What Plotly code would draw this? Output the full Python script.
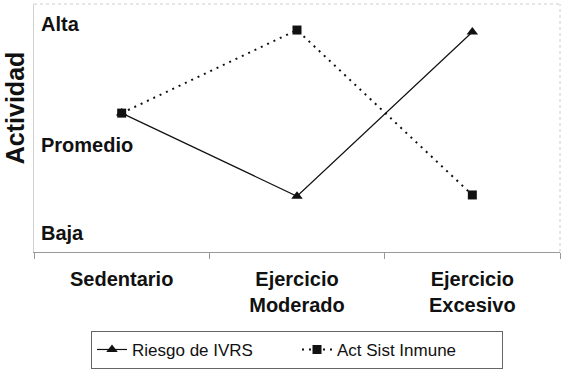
import plotly.graph_objects as go

categories = ["Sedentario", "Ejercicio<br>Moderado", "Ejercicio<br>Excesivo"]
riesgo_ivrs = [5.6, 2.25, 8.87]
act_sist_inmune = [5.6, 8.95, 2.3]
ytick_vals = [9.19, 4.31, 0.75]
ytick_text = ["Alta", "Promedio", "Baja"]

FONT = "Liberation Sans, Arial, sans-serif"

fig = go.Figure()
fig.add_trace(go.Scatter(
    x=categories, y=riesgo_ivrs, name="Riesgo de IVRS", mode="lines+markers",
    line=dict(color="#111111", width=1.2, dash="solid"),
    marker=dict(symbol="triangle-up", size=10, color="#111111"),
))
fig.add_trace(go.Scatter(
    x=categories, y=act_sist_inmune, name="Act Sist Inmune", mode="lines+markers",
    line=dict(color="#111111", width=2, dash="2px,5px"),
    marker=dict(symbol="square", size=9, color="#111111"),
))

fig.update_layout(
    width=564, height=371,
    margin=dict(l=34, r=4, t=4, b=119),
    paper_bgcolor="white", plot_bgcolor="white",
    font=dict(family=FONT, color="#111111"),
    showlegend=True,
    legend=dict(
        orientation="h", x=0.5, xanchor="center",
        yref="container", y=0.108, yanchor="top",
        bordercolor="#666666", borderwidth=1, font=dict(size=17, family=FONT),
        tracegroupgap=0, entrywidth=160, entrywidthmode="pixels",
    ),
    xaxis=dict(
        type="category", range=[-0.5, 2.5], automargin=False,
        showline=True, linecolor="#999999", linewidth=1,
        ticks="outside", tickson="boundaries", ticklen=6, tickcolor="#999999",
        showgrid=False, mirror=False, ticklabelstandoff=9,
        ticklabeloverflow="allow",
        tickfont=dict(size=20, family=FONT, weight="bold", color="#111111"),
    ),
    yaxis=dict(
        range=[0, 10], tickvals=ytick_vals, ticktext=ytick_text, automargin=False,
        ticklabelposition="inside", ticks="", showgrid=False,
        showline=True, linecolor="#d0d0d0", linewidth=1,
        ticklabeloverflow="allow",
        tickfont=dict(size=20, family=FONT, weight="bold", color="#111111"),
        zeroline=False, ticklabelstandoff=8,
    ),
    annotations=[dict(
        text="<b>Actividad</b>", textangle=-90, xref="paper", yref="paper",
        x=-0.036, xanchor="center", y=0.58, yanchor="middle", showarrow=False,
        font=dict(size=25, family=FONT, color="#111111"),
    )],
    shapes=[
        dict(type="line", xref="paper", yref="paper", x0=0, x1=1, y0=1, y1=1,
             line=dict(color="#cccccc", width=1, dash="dot")),
        dict(type="line", xref="paper", yref="paper", x0=1, x1=1, y0=0, y1=1,
             line=dict(color="#cccccc", width=1, dash="dot")),
    ],
)

fig.write_html("out.html", config={"displayModeBar": False},
               post_script="document.body.style.margin='0px';")
